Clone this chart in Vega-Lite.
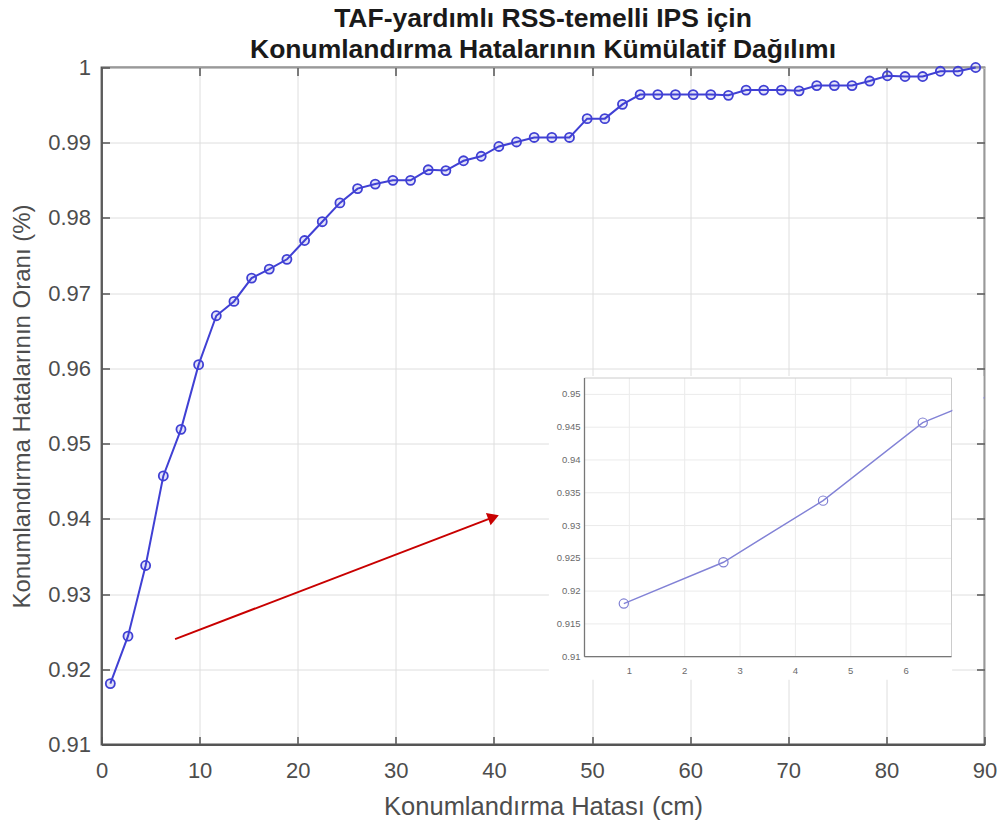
{
  "$schema": "https://vega.github.io/schema/vega-lite/v6.json",
  "background": "white",
  "autosize": {"type": "pad"},
  "padding": {"left": 9.5, "top": 5.5, "right": 10, "bottom": 10},
  "title": {
    "text": ["TAF-yardımlı RSS-temelli IPS için", "Konumlandırma Hatalarının Kümülatif Dağılımı"],
    "font": "Liberation Sans",
    "fontSize": 26.5,
    "fontWeight": "bold",
    "color": "#1a1a1a",
    "lineHeight": 31,
    "anchor": "middle",
    "offset": -7
  },
  "config": {
    "font": "Liberation Sans",
    "view": {"stroke": "#555555", "strokeWidth": 1.8}
  },
  "datasets": {
    "cdf": [
      {"error_cm": 0.9, "ratio": 0.9181},
      {"error_cm": 2.7, "ratio": 0.9244},
      {"error_cm": 4.5, "ratio": 0.9338},
      {"error_cm": 6.3, "ratio": 0.9457},
      {"error_cm": 8.1, "ratio": 0.9519},
      {"error_cm": 9.9, "ratio": 0.9605},
      {"error_cm": 11.7, "ratio": 0.967},
      {"error_cm": 13.5, "ratio": 0.9689},
      {"error_cm": 15.3, "ratio": 0.972},
      {"error_cm": 17.1, "ratio": 0.9732},
      {"error_cm": 18.9, "ratio": 0.9745},
      {"error_cm": 20.7, "ratio": 0.977},
      {"error_cm": 22.5, "ratio": 0.9795},
      {"error_cm": 24.3, "ratio": 0.982},
      {"error_cm": 26.1, "ratio": 0.9839},
      {"error_cm": 27.9, "ratio": 0.9845},
      {"error_cm": 29.7, "ratio": 0.985},
      {"error_cm": 31.5, "ratio": 0.985},
      {"error_cm": 33.3, "ratio": 0.9864},
      {"error_cm": 35.1, "ratio": 0.9863},
      {"error_cm": 36.9, "ratio": 0.9876},
      {"error_cm": 38.7, "ratio": 0.9882},
      {"error_cm": 40.5, "ratio": 0.9895},
      {"error_cm": 42.3, "ratio": 0.9901},
      {"error_cm": 44.1, "ratio": 0.9907},
      {"error_cm": 45.9, "ratio": 0.9907},
      {"error_cm": 47.7, "ratio": 0.9907},
      {"error_cm": 49.5, "ratio": 0.9932},
      {"error_cm": 51.3, "ratio": 0.9932},
      {"error_cm": 53.1, "ratio": 0.9951},
      {"error_cm": 54.9, "ratio": 0.9964},
      {"error_cm": 56.7, "ratio": 0.9964},
      {"error_cm": 58.5, "ratio": 0.9964},
      {"error_cm": 60.3, "ratio": 0.9964},
      {"error_cm": 62.1, "ratio": 0.9964},
      {"error_cm": 63.9, "ratio": 0.9963},
      {"error_cm": 65.7, "ratio": 0.997},
      {"error_cm": 67.5, "ratio": 0.997},
      {"error_cm": 69.3, "ratio": 0.997},
      {"error_cm": 71.1, "ratio": 0.9969},
      {"error_cm": 72.9, "ratio": 0.9976},
      {"error_cm": 74.7, "ratio": 0.9976},
      {"error_cm": 76.5, "ratio": 0.9976},
      {"error_cm": 78.3, "ratio": 0.9982},
      {"error_cm": 80.1, "ratio": 0.9989},
      {"error_cm": 81.9, "ratio": 0.9988},
      {"error_cm": 83.7, "ratio": 0.9988},
      {"error_cm": 85.5, "ratio": 0.9995},
      {"error_cm": 87.3, "ratio": 0.9995},
      {"error_cm": 89.1, "ratio": 1.0}
    ],
    "insetTicksX": [{"v": 1}, {"v": 2}, {"v": 3}, {"v": 4}, {"v": 5}, {"v": 6}],
    "insetTicksY": [{"v": 0.91}, {"v": 0.915}, {"v": 0.92}, {"v": 0.925}, {"v": 0.93}, {"v": 0.935}, {"v": 0.94}, {"v": 0.945}, {"v": 0.95}]
  },
  "width": 883,
  "height": 677,
  "resolve": {
    "scale": {"x": "independent", "y": "independent"},
    "axis": {"x": "independent", "y": "independent"}
  },
  "layer": [
    {
      "data": {"name": "cdf"},
      "resolve": {"axis": {"x": "independent", "y": "independent"}},
      "layer": [
        {
          "mark": {"type": "line", "color": "#4040d4", "strokeWidth": 2},
          "encoding": {
            "x": {
              "field": "error_cm",
              "type": "quantitative",
              "scale": {"domain": [0, 90], "nice": false, "zero": false},
              "axis": {
                "orient": "bottom",
                "values": [0, 10, 20, 30, 40, 50, 60, 70, 80, 90],
                "format": "d",
                "labelFlush": false,
                "labelFontSize": 22,
                "labelColor": "#4d4d4d",
                "labelPadding": 23.5,
                "tickSize": -8,
                "tickColor": "#555555",
                "tickWidth": 1.5,
                "domainColor": "#555555",
                "domainWidth": 1.8,
                "grid": true,
                "gridColor": "#dedede",
                "gridWidth": 1,
                "title": "Konumlandırma Hatası (cm)",
                "titleFontSize": 25.5,
                "titleFontWeight": "normal",
                "titleColor": "#4d4d4d",
                "titlePadding": 13.5
              }
            },
            "y": {
              "field": "ratio",
              "type": "quantitative",
              "scale": {"domain": [0.91, 1], "nice": false, "zero": false},
              "axis": {
                "orient": "left",
                "values": [0.91, 0.92, 0.93, 0.94, 0.95, 0.96, 0.97, 0.98, 0.99, 1],
                "format": "~g",
                "labelFlush": false,
                "labelFontSize": 22,
                "labelColor": "#4d4d4d",
                "labelPadding": 19,
                "tickSize": -8,
                "tickColor": "#555555",
                "tickWidth": 1.5,
                "domainColor": "#555555",
                "domainWidth": 1.8,
                "grid": true,
                "gridColor": "#dedede",
                "gridWidth": 1,
                "title": "Konumlandırma Hatalarının Oranı (%)",
                "titleFontSize": 24,
                "titleFontWeight": "normal",
                "titleColor": "#4d4d4d",
                "titlePadding": 13.5
              }
            }
          }
        },
        {
          "mark": {"type": "point", "shape": "circle", "size": 82, "filled": false, "fill": "#4040d4", "fillOpacity": 0.15, "stroke": "#4040d4", "strokeWidth": 1.8, "opacity": 1},
          "encoding": {
            "x": {"field": "error_cm", "type": "quantitative", "axis": null},
            "y": {"field": "ratio", "type": "quantitative", "axis": null}
          }
        },
        {
          "data": {"values": [{}]},
          "mark": {"type": "rect", "fill": "white"},
          "encoding": {
            "x": {"datum": 45.6, "type": "quantitative", "axis": null},
            "x2": {"datum": 86.7},
            "y": {"datum": 0.9186, "type": "quantitative", "axis": null},
            "y2": {"datum": 0.959}
          }
        },
        {
          "data": {"values": [{}]},
          "mark": {"type": "rule", "color": "#c80000", "strokeWidth": 2},
          "encoding": {
            "x": {
              "datum": 7.5,
              "type": "quantitative",
              "axis": {
                "orient": "top",
                "values": [10, 20, 30, 40, 50, 60, 70, 80],
                "labels": false,
                "domain": false,
                "grid": false,
                "tickSize": -8,
                "tickColor": "#555555",
                "tickWidth": 1.5,
                "title": null
              }
            },
            "x2": {"datum": 39.96},
            "y": {
              "datum": 0.924,
              "type": "quantitative",
              "axis": {
                "orient": "right",
                "values": [0.92, 0.93, 0.94, 0.95, 0.96, 0.97, 0.98, 0.99],
                "labels": false,
                "domain": false,
                "grid": false,
                "tickSize": -8,
                "tickColor": "#555555",
                "tickWidth": 1.5,
                "title": null
              }
            },
            "y2": {"datum": 0.94022}
          }
        },
        {
          "data": {"values": [{}]},
          "mark": {"type": "point", "shape": "triangle-right", "angle": -21, "size": 170, "filled": true, "color": "#c80000", "opacity": 1},
          "encoding": {
            "x": {"datum": 39.96, "type": "quantitative", "axis": null},
            "y": {"datum": 0.94022, "type": "quantitative", "axis": null}
          }
        }
      ]
    },
    {
      "layer": [
        {
          "data": {"name": "insetTicksX"},
          "mark": {"type": "rule", "color": "#ebebeb", "strokeWidth": 1},
          "encoding": {
            "x": {
              "field": "v",
              "type": "quantitative",
              "scale": {"domain": [0.19, 6.82], "range": [483, 850], "nice": false, "zero": false},
              "axis": null
            },
            "y": {
              "datum": 0.91,
              "type": "quantitative",
              "scale": {"domain": [0.91, 0.9525], "range": [589.2, 310.5], "nice": false, "zero": false},
              "axis": null
            },
            "y2": {"datum": 0.9525}
          }
        },
        {
          "data": {"name": "insetTicksY"},
          "transform": [{"filter": "datum.v > 0.911"}],
          "mark": {"type": "rule", "color": "#ebebeb", "strokeWidth": 1},
          "encoding": {
            "y": {"field": "v", "type": "quantitative", "axis": null},
            "x": {"datum": 0.19, "type": "quantitative", "axis": null},
            "x2": {"datum": 6.82}
          }
        },
        {
          "data": {"values": [{}]},
          "mark": {"type": "rect", "fill": null, "filled": false, "stroke": "#cccccc", "strokeWidth": 1},
          "encoding": {
            "x": {"datum": 0.19, "type": "quantitative", "axis": null},
            "x2": {"datum": 6.82},
            "y": {"datum": 0.91, "type": "quantitative", "axis": null},
            "y2": {"datum": 0.9525}
          }
        },
        {
          "data": {"values": [{}]},
          "mark": {"type": "rule", "color": "#777777", "strokeWidth": 1.3},
          "encoding": {
            "x": {"datum": 0.19, "type": "quantitative", "axis": null},
            "y": {"datum": 0.91, "type": "quantitative", "axis": null},
            "y2": {"datum": 0.9525}
          }
        },
        {
          "data": {"values": [{}]},
          "mark": {"type": "rule", "color": "#777777", "strokeWidth": 1.3},
          "encoding": {
            "x": {"datum": 0.19, "type": "quantitative", "axis": null},
            "x2": {"datum": 6.82},
            "y": {"datum": 0.91, "type": "quantitative", "axis": null}
          }
        },
        {
          "data": {"name": "cdf"},
          "mark": {"type": "line", "color": "#8282d6", "strokeWidth": 1.4, "clip": true},
          "encoding": {
            "x": {"field": "error_cm", "type": "quantitative", "axis": null},
            "y": {"field": "ratio", "type": "quantitative", "axis": null}
          }
        },
        {
          "data": {"name": "cdf"},
          "mark": {"type": "point", "shape": "circle", "size": 85, "filled": false, "stroke": "#7f7fd2", "strokeWidth": 1.2, "opacity": 1, "clip": true},
          "encoding": {
            "x": {"field": "error_cm", "type": "quantitative", "axis": null},
            "y": {"field": "ratio", "type": "quantitative", "axis": null}
          }
        },
        {
          "data": {"values": [{}]},
          "mark": {"type": "rect", "fill": "white"},
          "encoding": {
            "x": {"datum": 6.836, "type": "quantitative", "axis": null},
            "x2": {"datum": 7.395},
            "y": {"datum": 0.9446, "type": "quantitative", "axis": null},
            "y2": {"datum": 0.9528}
          }
        },
        {
          "data": {"name": "insetTicksX"},
          "mark": {"type": "text", "fontSize": 9.5, "color": "#6a6a6a", "align": "center", "baseline": "top", "dy": 9},
          "encoding": {
            "x": {"field": "v", "type": "quantitative", "axis": null},
            "y": {"datum": 0.91, "type": "quantitative", "axis": null},
            "text": {"field": "v", "type": "quantitative", "format": "d"}
          }
        },
        {
          "data": {"name": "insetTicksY"},
          "mark": {"type": "text", "fontSize": 9.5, "color": "#6a6a6a", "align": "right", "baseline": "middle", "dx": -4},
          "encoding": {
            "x": {"datum": 0.19, "type": "quantitative", "axis": null},
            "y": {"field": "v", "type": "quantitative", "axis": null},
            "text": {"field": "v", "type": "quantitative", "format": "~g"}
          }
        }
      ]
    }
  ]
}
